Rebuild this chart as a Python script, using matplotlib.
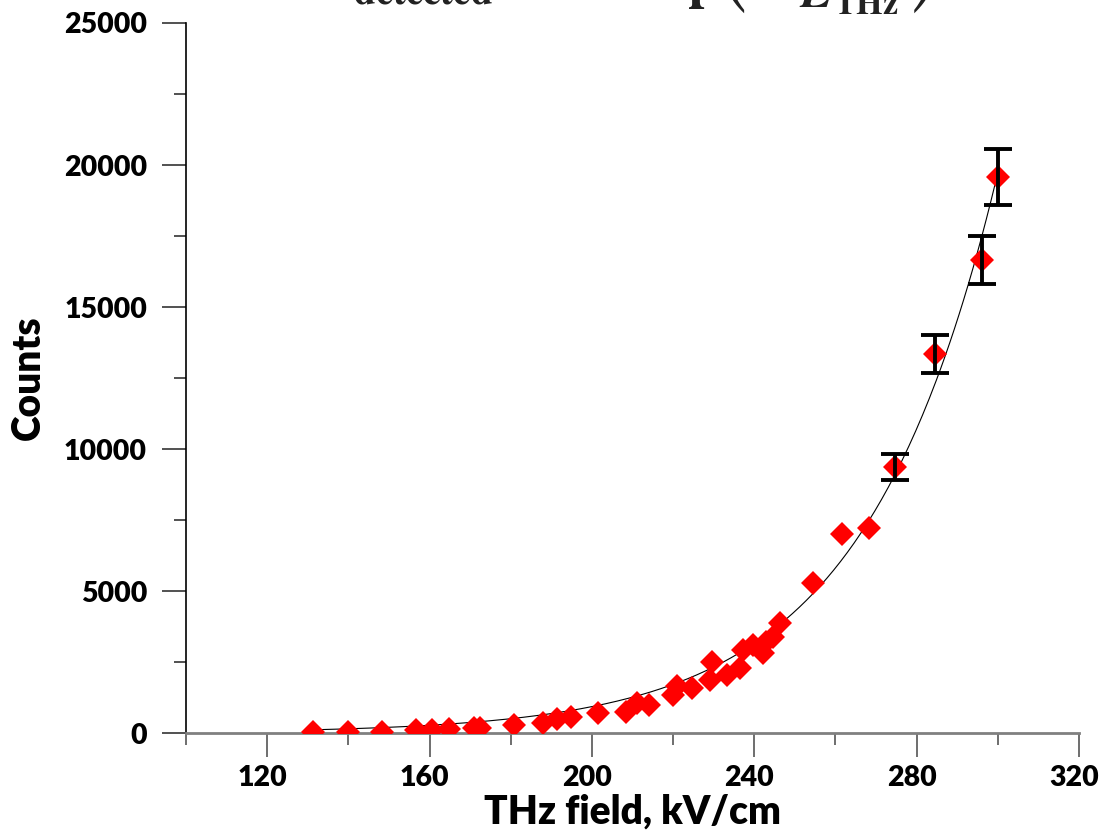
import numpy as np
import matplotlib.pyplot as plt
from matplotlib.ticker import MultipleLocator
from matplotlib.transforms import ScaledTranslation

# THz field (kV/cm) and detected counts
field = [131.4, 139.9, 148.3, 156.7, 160.5, 164.8, 171.0, 172.4, 180.9, 187.9,
         191.5, 194.8, 201.6, 208.3, 211.1, 214.0, 220.0, 221.0, 224.6, 229.1,
         229.5, 233.2, 236.5, 237.3, 239.7, 242.2, 243.0, 244.7, 246.3, 254.4,
         261.6, 268.2, 274.6, 284.5, 296.1, 300.0]
counts = [25, 25, 35, 105, 105, 130, 165, 185, 290, 365,
          505, 550, 690, 750, 1045, 975, 1350, 1650, 1575, 1865,
          2510, 2040, 2280, 2920, 3100, 2805, 3215, 3390, 3860, 5290,
          7000, 7220, 9370, 13345, 16655, 19580]

# error bars only on the four highest points
err_field = [274.6, 284.5, 296.1, 300.0]
err_counts = [9370, 13345, 16655, 19580]
err_size = [470, 680, 833, 1000]

plt.rcParams['font.family'] = 'Lato'
plt.rcParams['font.weight'] = 'heavy'
plt.rcParams['mathtext.fontset'] = 'stix'

fig = plt.figure(figsize=(10.99, 8.33), dpi=100)
ax = fig.add_axes([0.1692, 0.12, 0.8126, 0.8524])

# exponential fit, weighted towards the large counts
x = np.array(field)
y = np.array(counts)
rate, offset = np.polyfit(x, np.log(y), 1, w=y)
xfit = np.linspace(132, 300, 300)
ax.plot(xfit, np.exp(offset + rate * xfit), color='black', lw=0.8, zorder=2)

ax.plot(field, counts, 'D', color='#ff0000', ms=12, mew=0, zorder=3)
ax.errorbar(err_field, err_counts, yerr=err_size, fmt='none', ecolor='black',
            elinewidth=2.8, capsize=10, capthick=2.8, zorder=4)

ax.set_xlim(100, 320)
ax.set_ylim(0, 25000)
ax.xaxis.set_major_locator(plt.FixedLocator([120, 160, 200, 240, 280, 320]))
ax.xaxis.set_minor_locator(plt.FixedLocator([100, 140, 180, 220, 260, 300]))
ax.yaxis.set_major_locator(MultipleLocator(5000))
ax.yaxis.set_minor_locator(MultipleLocator(2500))

for s in ['top', 'right']:
    ax.spines[s].set_visible(False)
ax.spines['bottom'].set_color('#808080')
ax.spines['bottom'].set_linewidth(2)
ax.spines['left'].set_linewidth(1.2)

ax.tick_params(axis='x', which='major', length=17, width=1.2, color='#555555', pad=6, labelsize=20.5)
ax.tick_params(axis='x', which='minor', length=8.6, width=1.2, color='#555555')
ax.tick_params(axis='y', which='major', length=17, width=1.2, color='#333333', pad=11, labelsize=20.5)
ax.tick_params(axis='y', which='minor', length=8.6, width=1.2, color='#333333')

# x labels sit a little left of their ticks in the reference
shift = ScaledTranslation(-5 / 100, 0, fig.dpi_scale_trans)
for lab in ax.get_xticklabels():
    lab.set_transform(lab.get_transform() + shift)

ax.set_xlabel('THz field, kV/cm', fontsize=28, fontweight='heavy', labelpad=2)
ax.set_ylabel('Counts', fontsize=28, fontweight='heavy', labelpad=12)

# fit formula, mostly cut off above the figure in the reference
fig.text(312 / 1099, 1 - 11 / 833, r'$N_{\mathrm{detected}}=A\cdot\exp$',
         fontsize=40, color='#222222', ha='left', va='bottom')
fig.text(826 / 1099, 1 - 17 / 833,
         r'$\left(-\frac{E_{0}}{E_{\mathrm{THz}}}\right)$',
         fontsize=50, color='#222222', ha='center', va='bottom')

fig.savefig('out.png', dpi=100)
